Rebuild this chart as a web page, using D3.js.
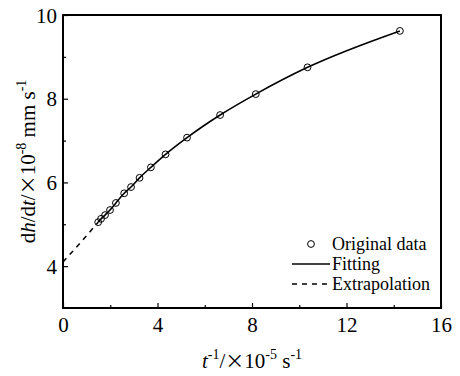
<!DOCTYPE html>
<html>
<head>
<meta charset="utf-8">
<script src="https://cdn.jsdelivr.net/npm/d3@7"></script>
</head>
<body style="margin:0;background:#fff">
<svg id="chart" width="460" height="376" font-family="Liberation Serif" style="font-family: 'Liberation Serif', serif"></svg>
<script>
// data
const tInv = [1.49, 1.61, 1.78, 1.99, 2.24, 2.59, 2.88, 3.24, 3.72, 4.34, 5.25, 6.65, 8.16, 10.35, 14.26];
const rate = [5.05, 5.13, 5.22, 5.34, 5.51, 5.74, 5.89, 6.11, 6.36, 6.67, 7.07, 7.61, 8.11, 8.75, 9.62];
const extraX = [0, 0.75, 1.49];
const extraY = [4.1, 4.57, 5.05];
const xTicks = [0, 4, 8, 12, 16];
const yTicks = [4, 6, 8, 10];
const legendItems = ["Original data", "Fitting", "Extrapolation"];

const FONT = "Liberation Serif";
const CJK = "Noto Sans CJK SC";
const margin = { top: 15, right: 19, bottom: 68, left: 63 };
const width = 460, height = 376;

const $svg = d3.select("#chart");

const x = d3.scaleLinear().domain([0, 16]).range([margin.left, width - margin.right]);
const y = d3.scaleLinear().domain([3, 10]).range([height - margin.bottom, margin.top]);

const points = tInv.map((d, i) => ({ x: d, y: rate[i] }));
const extra = extraX.map((d, i) => ({ x: d, y: extraY[i] }));

const line = d3.line().x(d => x(d.x)).y(d => y(d.y)).curve(d3.curveMonotoneX);

// lines
$svg.append("path")
    .datum(extra)
    .attr("d", line)
    .attr("fill", "none")
    .attr("stroke", "#000")
    .attr("stroke-width", 1.5)
    .attr("stroke-dasharray", "5,5");

$svg.append("path")
    .datum(points)
    .attr("d", line)
    .attr("fill", "none")
    .attr("stroke", "#000")
    .attr("stroke-width", 1.6);

$svg.append("g")
  .selectAll("circle")
  .data(points)
  .join("circle")
    .attr("cx", d => x(d.x))
    .attr("cy", d => y(d.y))
    .attr("r", 3.4)
    .attr("fill", "none")
    .attr("stroke", "#000")
    .attr("stroke-width", 1);

// axes, ticks inside
const xAxis = d3.axisBottom(x).tickValues(d3.range(0, 17, 2)).tickSize(-5)
    .tickFormat(d => xTicks.includes(d) ? d : "");
const yAxis = d3.axisLeft(y).tickValues(d3.range(3, 10.5, 1)).tickSize(-5)
    .tickFormat(d => yTicks.includes(d) ? d : "");

const $x = $svg.append("g")
    .attr("transform", `translate(0,${height - margin.bottom})`)
    .call(xAxis);
const $y = $svg.append("g")
    .attr("transform", `translate(${margin.left},0)`)
    .call(yAxis);

[$x, $y].forEach($a => {
    $a.attr("font-family", FONT).attr("font-size", 21);
    $a.select(".domain").remove();
    $a.selectAll("line").attr("stroke", "#000").attr("stroke-width", 1.2);
    $a.selectAll("text").attr("fill", "#000")
      .attr("font-family", FONT).style("font-family", FONT);
});
$x.selectAll(".tick line").attr("y2", d => xTicks.includes(d) ? -5 : -3);
$x.selectAll(".tick text").attr("dy", "0.71em").attr("y", 9);
$y.selectAll(".tick line").attr("x2", d => yTicks.includes(d) ? 5 : 3);
$y.selectAll(".tick text").attr("x", -6).attr("dy", "0.34em");
$y.selectAll(".tick").filter(d => d === 3).select("line").attr("x2", 0);

// frame
$svg.append("rect")
    .attr("x", margin.left)
    .attr("y", margin.top)
    .attr("width", width - margin.left - margin.right)
    .attr("height", height - margin.top - margin.bottom)
    .attr("fill", "none")
    .attr("stroke", "#000")
    .attr("stroke-width", 2);

// axis titles
const xt = $svg.append("text")
    .attr("x", (margin.left + width - margin.right) / 2)
    .attr("y", 368)
    .attr("text-anchor", "middle")
    .attr("font-family", FONT)
    .style("font-family", FONT)
    .attr("font-size", 21);
xt.append("tspan").attr("font-style", "italic").text("t");
xt.append("tspan").attr("font-size", 14).attr("dy", -9).text("-1");
xt.append("tspan").attr("dy", 9).text("/");
xt.append("tspan").style("font-family", CJK).attr("font-size", 19).text("×");
xt.append("tspan").text("10");
xt.append("tspan").attr("font-size", 14).attr("dy", -9).text("-5");
xt.append("tspan").attr("dy", 9).text(" s");
xt.append("tspan").attr("font-size", 14).attr("dy", -9).text("-1");

const yt = $svg.append("text")
    .attr("transform", `translate(35,${(margin.top + height - margin.bottom) / 2}) rotate(-90)`)
    .attr("text-anchor", "middle")
    .attr("font-family", FONT)
    .style("font-family", FONT)
    .attr("font-size", 21);
yt.append("tspan").text("d");
yt.append("tspan").attr("font-style", "italic").text("h");
yt.append("tspan").text("/d");
yt.append("tspan").attr("font-style", "italic").text("t");
yt.append("tspan").text("/");
yt.append("tspan").style("font-family", CJK).attr("font-size", 19).text("×");
yt.append("tspan").text("10");
yt.append("tspan").attr("font-size", 14).attr("dy", -9).text("-8");
yt.append("tspan").attr("dy", 9).text(" mm s");
yt.append("tspan").attr("font-size", 14).attr("dy", -9).text("-1");

// legend
const $legend = $svg.append("g");
const legendY = d3.scalePoint().domain(legendItems).range([244, 284]);
$legend.append("circle")
    .attr("cx", 311).attr("cy", legendY("Original data"))
    .attr("r", 3.4).attr("fill", "none").attr("stroke", "#000");
$legend.append("line")
    .attr("x1", 292).attr("x2", 330)
    .attr("y1", legendY("Fitting")).attr("y2", legendY("Fitting"))
    .attr("stroke", "#000").attr("stroke-width", 1.6);
$legend.append("line")
    .attr("x1", 292).attr("x2", 330)
    .attr("y1", legendY("Extrapolation")).attr("y2", legendY("Extrapolation"))
    .attr("stroke", "#000").attr("stroke-width", 1.5).attr("stroke-dasharray", "5,5");
$legend.selectAll("text")
  .data(legendItems)
  .join("text")
    .attr("x", 332)
    .attr("y", d => legendY(d))
    .attr("dy", "0.35em")
    .attr("font-family", FONT)
    .style("font-family", FONT)
    .attr("font-size", 18)
    .text(d => d);
</script>
</body>
</html>
